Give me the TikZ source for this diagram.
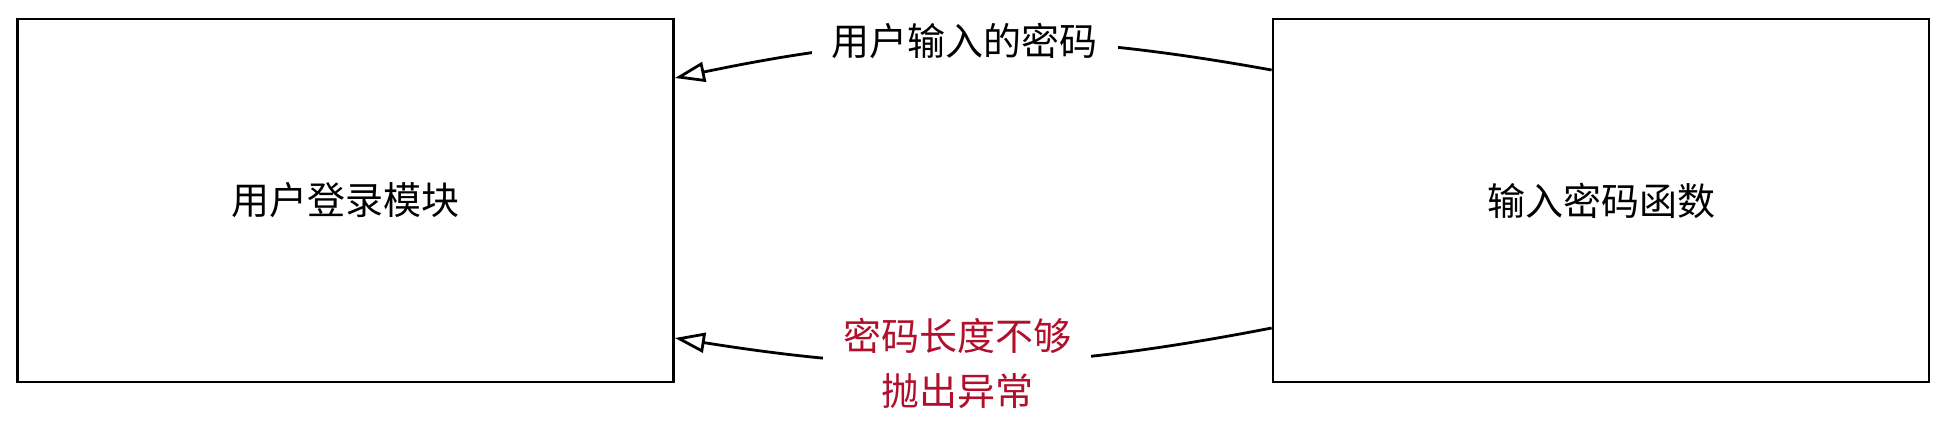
\documentclass[tikz,border=0pt]{standalone}
\usepackage{fontspec}
\setmainfont{Noto Sans CJK SC}
\usetikzlibrary{arrows.meta}
\definecolor{rouge}{HTML}{B0102C}
\tikzset{
  boite/.style={draw,line width=1.4pt,minimum width=328pt,minimum height=181.5pt,inner sep=0pt},
  fleche/.style={line width=1.4pt,-{Triangle[open,length=15pt,width=10pt]}},
  etiquette/.style={fill=white,inner xsep=10pt,inner ysep=2pt,align=center}
}

\begin{document}
\begin{tikzpicture}[x=0.5pt,y=-0.5pt,font=\fontsize{19}{27.5}\selectfont]
    \useasboundingbox (0,0) rectangle (1959,436);

    \node[boite] (Module_Login) at (345.5,200.5) {用户登录模块};
    \node[boite] (Fonction_Saisie) at (1601,200.5) {输入密码函数};

    \coordinate (Saisie_Haut) at ([yshift=65.25pt]Fonction_Saisie.west);
    \coordinate (Saisie_Bas) at ([yshift=-63.75pt]Fonction_Saisie.west);
    \coordinate (Login_Haut) at ([yshift=61.25pt]Module_Login.east);
    \coordinate (Login_Bas) at ([yshift=-68.75pt]Module_Login.east);

    \draw[fleche] (Saisie_Haut) to[bend right=11]
      node[etiquette,pos=0.515] (Msg_Haut) {用户输入的密码} (Login_Haut);
    \draw[fleche] (Saisie_Bas) to[bend left=10]
      node[etiquette,text=rouge,pos=0.53] (Msg_Bas) {密码长度不够\\抛出异常} (Login_Bas);
\end{tikzpicture}
\end{document}
